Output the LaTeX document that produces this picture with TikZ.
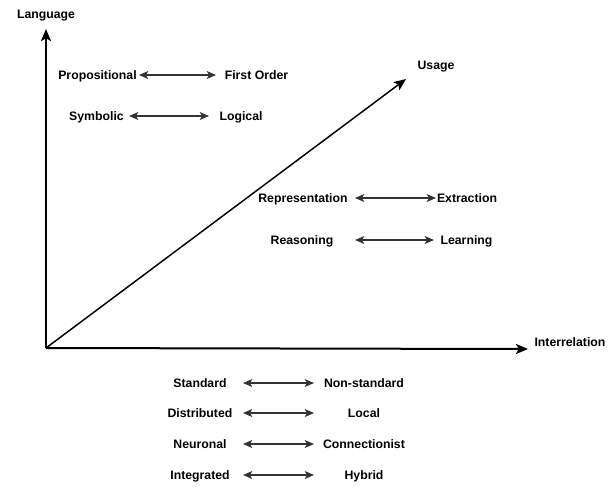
\documentclass[tikz,border=0pt]{standalone}
\usepackage{fontspec}
\setmainfont{Liberation Sans}
\usetikzlibrary{arrows.meta}
\tikzset{
  lbl/.style={font=\fontsize{9.2pt}{11pt}\selectfont\bfseries,inner sep=0pt,text height=6.6pt,text depth=0pt},
  axis/.style={line width=1.5pt,-{Stealth[length=9pt,width=7.5pt,inset=2pt]}},
  pair/.style={line width=1pt,black!80,{Stealth[length=7pt,width=6pt,inset=1.8pt]}-{Stealth[length=7pt,width=6pt,inset=1.8pt]}}
}
\begin{document}
\begin{tikzpicture}[x=0.75pt,y=-0.75pt]
    \useasboundingbox (0,0) rectangle (616,487);
    % axes
    \coordinate (o) at (46,348);
    \coordinate (ytop) at (46,29);
    \coordinate (xend) at (528,349);
    \coordinate (uend) at (406,79);
    \draw[axis](o)--(ytop);
    \draw[axis](o)--(xend);
    \draw[line width=1.1pt,-{Stealth[length=9pt,width=7.5pt,inset=2pt]}](o)--(uend);
    \node[lbl](lang)at(46,14){Language};
    \node[lbl](usage)at(436,65){Usage};
    \node[lbl](inter)at(570,342){Interrelation};
    % language
    \node[lbl](prop)at(97.5,75){Propositional};
    \node[lbl](first)at(256.5,75){First Order};
    \draw[pair](139,75)--(216,75);
    \node[lbl](symb)at(96.5,116){Symbolic};
    \node[lbl](logi)at(241,116){Logical};
    \draw[pair](129,116)--(209,116);
    % usage
    \node[lbl](repr)at(303,198){Representation};
    \node[lbl](extr)at(467,198){Extraction};
    \draw[pair](355,198)--(436,198);
    \node[lbl](reas)at(302,240){Reasoning};
    \node[lbl](lear)at(466.5,240){Learning};
    \draw[pair](355,240)--(434,240);
    % interrelation
    \foreach \l/\r/\y in {Standard/Non-standard/383,Distributed/Local/413,Neuronal/Connectionist/444,Integrated/Hybrid/475}{
      \node[lbl](l\y)at(200,\y){\l};
      \node[lbl](r\y)at(364,\y){\r};
      \draw[pair](243,\y)--(314,\y);
    }
  \end{tikzpicture}
\end{document}
